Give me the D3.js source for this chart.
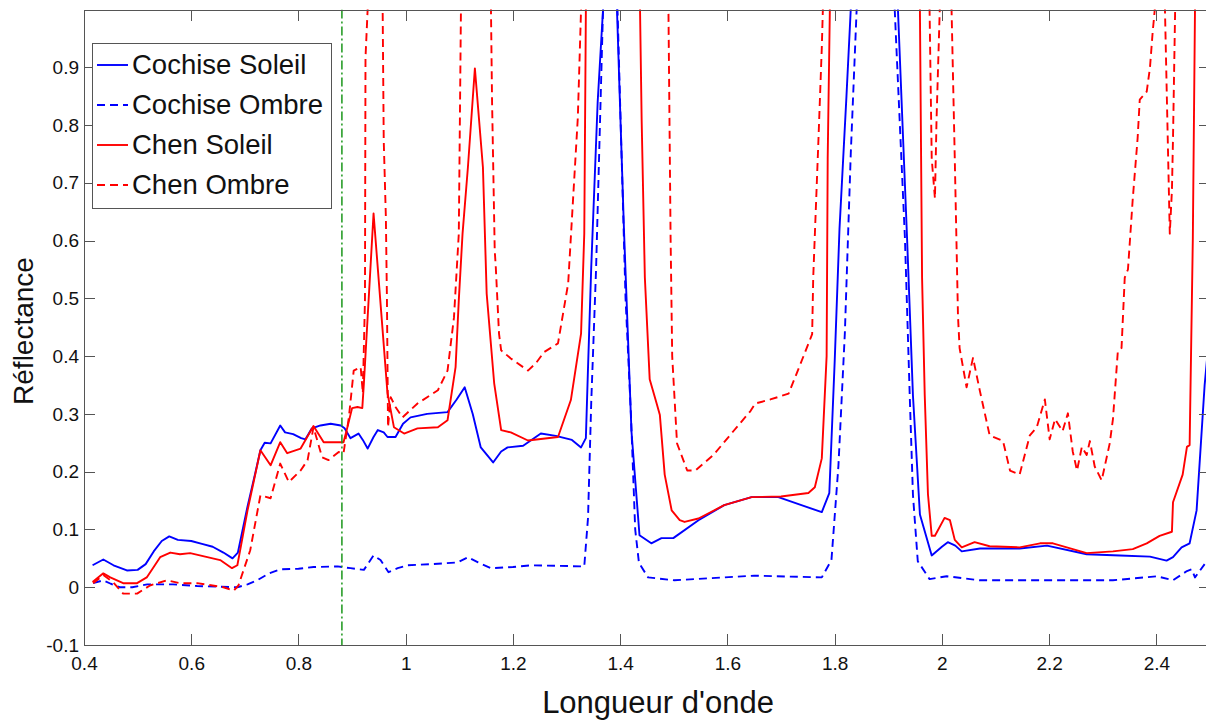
<!DOCTYPE html>
<html lang="fr">
<head>
<meta charset="UTF-8">
<title>Réflectance</title>
<style>
  body { margin: 0; padding: 0; background: #fff; }
  svg { display: block; font-family: "Liberation Sans", Arial, Helvetica, sans-serif; }
  .axis path, .axis line { stroke: #555; stroke-width: 1; shape-rendering: crispEdges; }
  .axis text { fill: #111; font-size: 19px; }
</style>
</head>
<body>
<svg width="1206" height="722"></svg>
<script src="https://d3js.org/d3.v7.min.js"></script>
<script>
// wavelength (µm) / reflectance pairs; values > 1 are clipped by the axes
const cochiseSoleil = [
  [0.416,0.038],[0.436,0.048],[0.455,0.038],[0.48,0.029],[0.5,0.03],[0.515,0.04],[0.53,0.062],[0.545,0.08],
  [0.559,0.088],[0.575,0.082],[0.6,0.08],[0.62,0.075],[0.64,0.07],[0.66,0.06],[0.677,0.05],[0.687,0.06],
  [0.705,0.14],[0.72,0.2],[0.729,0.237],[0.737,0.25],[0.748,0.249],[0.766,0.28],[0.775,0.268],[0.79,0.265],
  [0.805,0.258],[0.813,0.256],[0.825,0.275],[0.841,0.28],[0.86,0.283],[0.879,0.28],[0.886,0.275],[0.897,0.258],
  [0.912,0.266],[0.92,0.255],[0.929,0.24],[0.94,0.26],[0.948,0.272],[0.959,0.268],[0.966,0.26],[0.981,0.26],
  [0.995,0.283],[1.009,0.294],[1.04,0.3],[1.078,0.303],[1.095,0.325],[1.11,0.346],[1.125,0.3],[1.14,0.242],
  [1.163,0.216],[1.178,0.235],[1.19,0.242],[1.219,0.245],[1.252,0.266],[1.28,0.262],[1.31,0.255],[1.327,0.242],
  [1.336,0.258],[1.34,0.38],[1.346,0.554],[1.358,0.84],[1.368,1.0],[1.375,1.1],[1.39,1.1],[1.394,1.0],
  [1.407,0.62],[1.421,0.27],[1.436,0.09],[1.458,0.076],[1.477,0.085],[1.499,0.085],[1.546,0.116],[1.594,0.142],
  [1.645,0.156],[1.695,0.156],[1.738,0.142],[1.776,0.13],[1.79,0.163],[1.8,0.39],[1.809,0.62],[1.822,0.85],
  [1.83,1.0],[1.85,1.1],[1.9,1.1],[1.918,1.0],[1.935,0.605],[1.946,0.332],[1.959,0.126],[1.981,0.055],
  [2.0,0.07],[2.011,0.078],[2.025,0.072],[2.037,0.062],[2.071,0.067],[2.145,0.067],[2.196,0.072],[2.27,0.057],
  [2.332,0.055],[2.388,0.053],[2.419,0.046],[2.431,0.052],[2.447,0.069],[2.462,0.076],[2.475,0.133],[2.49,0.35],
  [2.5,0.45]
];

const cochiseOmbre = [
  [0.417,0.007],[0.436,0.012],[0.45,0.006],[0.467,0.0],[0.49,0.0],[0.518,0.005],[0.566,0.005],[0.611,0.002],
  [0.65,0.001],[0.686,0.0],[0.705,0.005],[0.723,0.012],[0.745,0.024],[0.766,0.031],[0.8,0.032],[0.828,0.035],
  [0.873,0.036],[0.897,0.033],[0.922,0.03],[0.94,0.055],[0.953,0.047],[0.968,0.026],[0.985,0.033],[1.004,0.038],
  [1.05,0.04],[1.097,0.043],[1.116,0.052],[1.135,0.043],[1.159,0.033],[1.2,0.035],[1.234,0.038],[1.333,0.036],
  [1.34,0.12],[1.346,0.32],[1.355,0.55],[1.368,1.0],[1.378,1.1],[1.39,1.1],[1.395,1.0],[1.41,0.5],
  [1.42,0.3],[1.428,0.1],[1.435,0.042],[1.452,0.017],[1.501,0.012],[1.65,0.02],[1.776,0.017],[1.794,0.047],
  [1.807,0.21],[1.819,0.44],[1.83,0.75],[1.841,1.0],[1.86,1.1],[1.9,1.1],[1.912,1.0],[1.931,0.605],
  [1.94,0.332],[1.946,0.16],[1.955,0.045],[1.977,0.014],[2.009,0.019],[2.071,0.012],[2.2,0.012],[2.319,0.012],
  [2.401,0.019],[2.431,0.012],[2.457,0.028],[2.466,0.031],[2.472,0.017],[2.49,0.04]
];

const chenSoleil = [
  [0.416,0.009],[0.436,0.024],[0.449,0.017],[0.473,0.007],[0.499,0.007],[0.517,0.017],[0.53,0.035],[0.542,0.052],
  [0.561,0.06],[0.579,0.057],[0.598,0.059],[0.63,0.052],[0.654,0.047],[0.676,0.033],[0.686,0.038],[0.705,0.133],
  [0.729,0.237],[0.748,0.211],[0.766,0.251],[0.779,0.232],[0.804,0.24],[0.828,0.279],[0.847,0.251],[0.884,0.251],
  [0.89,0.272],[0.9,0.31],[0.91,0.312],[0.919,0.31],[0.922,0.353],[0.94,0.647],[0.966,0.336],[0.978,0.277],
  [0.997,0.266],[1.022,0.275],[1.06,0.277],[1.078,0.289],[1.093,0.381],[1.099,0.497],[1.106,0.612],[1.116,0.727],
  [1.129,0.898],[1.144,0.727],[1.151,0.508],[1.165,0.353],[1.178,0.272],[1.196,0.268],[1.228,0.254],[1.284,0.26],
  [1.308,0.324],[1.327,0.439],[1.333,0.612],[1.336,1.0],[1.34,1.2],[1.43,1.2],[1.437,1.0],[1.44,0.81],
  [1.446,0.536],[1.455,0.36],[1.468,0.318],[1.474,0.298],[1.483,0.195],[1.496,0.133],[1.511,0.116],[1.52,0.113],
  [1.546,0.119],[1.594,0.142],[1.645,0.156],[1.7,0.157],[1.751,0.163],[1.763,0.173],[1.776,0.223],[1.785,0.4],
  [1.787,0.742],[1.791,1.0],[1.8,1.2],[1.95,1.2],[1.959,1.0],[1.963,0.536],[1.968,0.332],[1.974,0.161],
  [1.981,0.089],[1.987,0.089],[2.005,0.12],[2.015,0.116],[2.024,0.082],[2.037,0.069],[2.061,0.078],[2.089,0.071],
  [2.145,0.069],[2.183,0.076],[2.207,0.076],[2.27,0.059],[2.319,0.062],[2.356,0.066],[2.382,0.076],[2.406,0.089],
  [2.429,0.096],[2.431,0.147],[2.449,0.195],[2.457,0.243],[2.462,0.246],[2.468,0.605],[2.472,1.0],[2.48,1.2]
];

const chenOmbre = [
  [0.417,0.007],[0.436,0.021],[0.454,0.009],[0.473,-0.011],[0.499,-0.011],[0.523,0.003],[0.555,0.012],[0.579,0.007],
  [0.611,0.007],[0.66,0.0],[0.679,-0.006],[0.688,0.003],[0.71,0.064],[0.729,0.159],[0.748,0.154],[0.766,0.214],
  [0.782,0.182],[0.804,0.202],[0.817,0.22],[0.828,0.277],[0.844,0.225],[0.856,0.22],[0.875,0.234],[0.884,0.232],
  [0.894,0.294],[0.903,0.375],[0.916,0.381],[0.92,0.336],[0.924,0.497],[0.925,0.917],[0.929,1.0],[0.935,1.3],
  [0.95,1.3],[0.957,1.0],[0.959,0.773],[0.963,0.64],[0.965,0.497],[0.967,0.277],[0.972,0.329],[0.981,0.312],
  [0.994,0.294],[1.022,0.318],[1.06,0.341],[1.078,0.375],[1.09,0.467],[1.099,0.612],[1.103,1.0],[1.11,1.3],
  [1.15,1.3],[1.159,1.0],[1.161,0.843],[1.166,0.583],[1.168,0.554],[1.174,0.439],[1.178,0.41],[1.196,0.396],
  [1.228,0.375],[1.243,0.388],[1.258,0.407],[1.284,0.422],[1.303,0.526],[1.312,0.67],[1.321,0.813],[1.327,1.0],
  [1.335,1.3],[1.48,1.3],[1.49,1.0],[1.494,0.605],[1.497,0.4],[1.506,0.249],[1.525,0.202],[1.54,0.202],
  [1.574,0.229],[1.611,0.27],[1.643,0.305],[1.652,0.318],[1.68,0.325],[1.714,0.335],[1.736,0.386],[1.758,0.438],
  [1.76,0.536],[1.769,0.756],[1.776,0.934],[1.778,1.0],[1.79,1.3],[1.96,1.3],[1.977,1.0],[1.981,0.742],
  [1.987,0.673],[1.99,0.81],[1.996,1.0],[2.005,1.3],[2.012,1.3],[2.018,1.0],[2.024,0.742],[2.03,0.469],
  [2.033,0.414],[2.046,0.346],[2.058,0.397],[2.071,0.339],[2.089,0.263],[2.114,0.253],[2.127,0.202],[2.145,0.195],
  [2.164,0.263],[2.177,0.277],[2.192,0.325],[2.201,0.256],[2.211,0.291],[2.225,0.27],[2.235,0.301],[2.244,0.235],
  [2.252,0.202],[2.261,0.243],[2.27,0.229],[2.276,0.253],[2.285,0.209],[2.298,0.185],[2.313,0.249],[2.319,0.291],
  [2.328,0.407],[2.335,0.414],[2.341,0.536],[2.347,0.55],[2.356,0.673],[2.365,0.777],[2.369,0.844],[2.382,0.858],
  [2.388,0.899],[2.393,0.96],[2.397,1.0],[2.405,1.3],[2.41,1.3],[2.416,1.0],[2.425,0.612],[2.429,0.687],
  [2.431,0.777],[2.435,1.0],[2.44,1.3],[2.5,1.3]
];

const seriesNames = ["Cochise Soleil", "Cochise Ombre", "Chen Soleil", "Chen Ombre"];
const seriesColors = ["#0000ff", "#0000ff", "#ff0000", "#ff0000"];
const seriesDashed = [false, true, false, true];
const xTicks = [0.4, 0.6, 0.8, 1, 1.2, 1.4, 1.6, 1.8, 2, 2.2, 2.4];
const yTicks = [-0.1, 0, 0.1, 0.2, 0.3, 0.4, 0.5, 0.6, 0.7, 0.8, 0.9];
const markerWavelength = 0.881;

const svg = d3.select("svg");
const plotLeft = 84, plotRight = 1210, plotTop = 9.5, plotBottom = 645;

const x = d3.scaleLinear().domain([0.4, 2.5]).range([plotLeft, plotRight]);
const y = d3.scaleLinear().domain([-0.1, 1.0]).range([plotBottom, plotTop]);
const fmt = d => String(+d.toFixed(1));

svg.append("defs").append("clipPath").attr("id", "plot")
  .append("rect")
  .attr("x", plotLeft).attr("y", plotTop)
  .attr("width", plotRight - plotLeft).attr("height", plotBottom - plotTop);

const plot = svg.append("g").attr("clip-path", "url(#plot)");
const line = d3.line().x(d => x(d[0])).y(d => y(d[1]));

[cochiseSoleil, cochiseOmbre, chenSoleil, chenOmbre].forEach((data, i) => {
  plot.append("path")
    .datum(data)
    .attr("fill", "none")
    .attr("stroke", seriesColors[i])
    .attr("stroke-width", 1.9)
    .attr("stroke-linejoin", "round")
    .attr("stroke-dasharray", seriesDashed[i] ? "8,5" : null)
    .attr("d", line);
});

plot.append("line")
  .attr("x1", x(markerWavelength)).attr("x2", x(markerWavelength))
  .attr("y1", plotTop).attr("y2", plotBottom)
  .attr("stroke", "#1a961a")
  .attr("stroke-width", 1.5)
  .attr("stroke-dasharray", "9,3,2,3");

// axes, ticks pointing inwards
svg.append("g").attr("class", "axis")
  .attr("transform", `translate(0,${plotBottom})`)
  .call(d3.axisBottom(x).tickValues(xTicks).tickFormat(fmt).tickSizeInner(-11).tickSizeOuter(0).tickPadding(12));

svg.append("g").attr("class", "axis")
  .attr("transform", `translate(0,${plotTop})`)
  .call(d3.axisTop(x).tickValues(xTicks).tickFormat("").tickSizeInner(-11).tickSizeOuter(0));

svg.append("g").attr("class", "axis")
  .attr("transform", `translate(${plotLeft},0)`)
  .call(d3.axisLeft(y).tickValues(yTicks).tickFormat(fmt).tickSizeInner(-11).tickSizeOuter(0).tickPadding(5));

svg.append("g").attr("class", "axis")
  .attr("transform", `translate(${plotRight},0)`)
  .call(d3.axisRight(y).tickValues(yTicks).tickFormat("").tickSizeInner(-11).tickSizeOuter(0));

svg.append("text")
  .attr("x", 658).attr("y", 713)
  .attr("text-anchor", "middle")
  .attr("font-size", 31)
  .attr("fill", "#111")
  .text("Longueur d'onde");

svg.append("text")
  .attr("transform", "translate(33,331) rotate(-90)")
  .attr("text-anchor", "middle")
  .attr("font-size", 28)
  .attr("fill", "#111")
  .text("Réflectance");

// legend
const legend = svg.append("g");
legend.append("rect")
  .attr("x", 92.5).attr("y", 43.5)
  .attr("width", 239).attr("height", 165)
  .attr("fill", "#fff")
  .attr("stroke", "#555")
  .attr("stroke-width", 1);

seriesNames.forEach((name, i) => {
  const ly = 65 + i * 40;
  legend.append("line")
    .attr("x1", 97).attr("x2", 128)
    .attr("y1", ly).attr("y2", ly)
    .attr("stroke", seriesColors[i])
    .attr("stroke-width", 1.9)
    .attr("stroke-dasharray", seriesDashed[i] ? "8,5" : null);
  legend.append("text")
    .attr("x", 132).attr("y", ly + 9)
    .attr("font-size", 27.5)
    .attr("fill", "#111")
    .text(name);
});
</script>
</body>
</html>
